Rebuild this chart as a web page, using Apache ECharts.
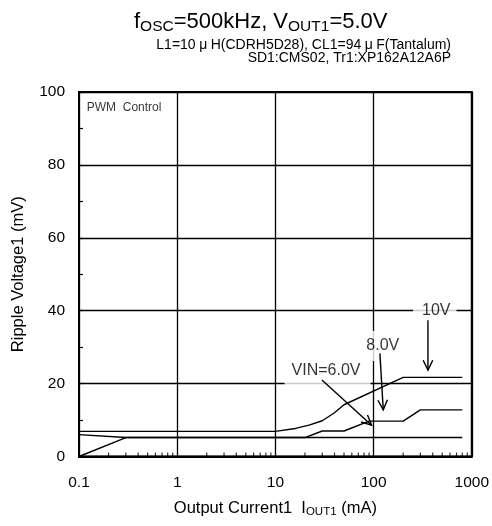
<!DOCTYPE html>
<html><head><meta charset="utf-8">
<script src="https://cdn.jsdelivr.net/npm/echarts@6/dist/echarts.min.js"></script>
<style>html,body{margin:0;padding:0;background:#fff}#c{width:492px;height:526px}</style>
</head><body><div id="c"></div>
<script>
const FONT = 'Liberation Sans, Arial, sans-serif';
// Output current (mA) vs ripple voltage (mV)
const vin10_current = [0.1, 10, 16, 22, 30, 40, 50, 200, 800];
const vin10_ripple  = [6.9, 6.9, 7.7, 8.6, 9.8, 12.0, 14.2, 21.7, 21.7];
const vin8_current  = [0.1, 0.3, 20, 30, 50, 90, 200, 300, 800];
const vin8_ripple   = [6.0, 5.2, 5.2, 7.0, 7.0, 9.7, 9.7, 12.8, 12.8];
const vin6_current  = [0.1, 0.3, 800];
const vin6_ripple   = [0, 5.2, 5.2];
const xTickLabels = ['0.1', '1', '10', '100', '1000'];
const yTickLabels = ['0', '20', '40', '60', '80', '100'];
const xDecades = [0.1, 1, 10, 100];
const minorMultipliers = [2, 3, 4, 5, 6, 7, 8, 9];
// annotations (data units)
const annotationTexts = ['10V', '8.0V', 'VIN=6.0V'];
const annotationX = [420, 124, 34];
const annotationY = [40, 30.3, 23.7];
const arrowFromX = [358, 116, 29.8];
const arrowFromY = [37.4, 28.3, 21];
const arrowToX = [358, 125.5, 95.5];
const arrowToY = [23.7, 12.8, 8.6];
const noteText = ['PWM  Control'];
const noteX = [0.12];
const noteY = [95.6];
// styles for annotation labels
const annotationPadding = [[2, 6, 2, 9], [7, 4, 7, 4], [9, 10, 9, 7]];

const zip = (a, b) => a.map((v, i) => [v, b[i]]);
const findLabel = (arr, v) => {
  for (const l of arr) { const n = parseFloat(l); if (n === v || (n !== 0 && Math.abs(v / n - 1) < 1e-6)) return l; }
  return '';
};
const minorTicks = [];
xDecades.forEach(d => minorMultipliers.forEach(m => minorTicks.push([d * m, 0])));

const lineSeries = (data) => ({
  type: 'line', data, symbol: 'none', silent: true, z: 3,
  lineStyle: { color: '#000', width: 1.4 }, animation: false
});

const chart = echarts.init(document.getElementById('c'), null, { renderer: 'canvas' });
chart.setOption({
  animation: false,
  backgroundColor: '#fff',
  textStyle: { fontFamily: FONT },
  title: [
    { text: 'f{s|OSC}=500kHz, V{s|OUT1}=5.0V', left: 129, top: 4,
      textStyle: { fontSize: 22, fontWeight: 'normal', color: '#000', fontFamily: FONT, lineHeight: 26,
        rich: { s: { fontSize: 15.5, lineHeight: 18, verticalAlign: 'bottom', color: '#000', fontFamily: FONT } } } },
    { text: 'L1=10{m|μ}H(CDRH5D28), CL1=94{m|μ}F(Tantalum)', right: 36, top: 33,
      textStyle: { fontSize: 14, fontWeight: 'normal', color: '#000', fontFamily: FONT, lineHeight: 14,
        rich: { m: { fontSize: 14, padding: [0, 3.5], color: '#000', fontFamily: FONT, lineHeight: 14 } } } },
    { text: 'SD1:CMS02, Tr1:XP162A12A6P', right: 36, top: 46,
      textStyle: { fontSize: 14, fontWeight: 'normal', color: '#000', fontFamily: FONT, lineHeight: 14 } }
  ],
  grid: { left: 79, right: 18, top: 92, bottom: 69.5, show: true, borderColor: '#000', borderWidth: 2, backgroundColor: 'transparent' },
  xAxis: {
    type: 'log', logBase: 10, min: 0.1, max: 1000,
    name: 'Output Current1  I{s|OUT1} (mA)', nameLocation: 'middle', nameGap: 42,
    nameTextStyle: { fontSize: 16.5, color: '#000', fontFamily: FONT, lineHeight: 19,
      rich: { s: { fontSize: 11.5, lineHeight: 14, verticalAlign: 'bottom', color: '#000', fontFamily: FONT } } },
    axisLine: { show: true, lineStyle: { color: '#000', width: 2 } },
    axisTick: { show: false },
    axisLabel: { margin: 18, fontSize: 15.5, color: '#000', fontFamily: FONT, formatter: v => findLabel(xTickLabels, v) },
    splitLine: { show: true, lineStyle: { color: '#000', width: 1.3 } },
    minorTick: { show: false }, minorSplitLine: { show: false }
  },
  yAxis: {
    type: 'value', min: 0, max: 100, interval: 20,
    name: 'Ripple Voltage1 (mV)', nameLocation: 'middle', nameGap: 52,
    nameTextStyle: { fontSize: 16.5, color: '#000', fontFamily: FONT },
    axisLine: { show: true, lineStyle: { color: '#000', width: 2 } },
    axisTick: { show: true, inside: true, length: 4, lineStyle: { color: '#000', width: 1.2 } },
    minorTick: { show: true, splitNumber: 2, length: 4, lineStyle: { color: '#000', width: 1.2 } },
    axisLabel: { margin: 14, fontSize: 15.5, color: '#000', fontFamily: FONT, formatter: v => findLabel(yTickLabels, v) },
    splitLine: { show: true, lineStyle: { color: '#000', width: 1.3 } }
  },
  series: [
    lineSeries(zip(vin10_current, vin10_ripple)),
    lineSeries(zip(vin8_current, vin8_ripple)),
    lineSeries(zip(vin6_current, vin6_ripple)),
    { type: 'scatter', data: minorTicks, symbol: 'rect', symbolSize: [1.2, 4], symbolOffset: [0, -2],
      itemStyle: { color: '#000' }, silent: true, z: 3 },
    { type: 'scatter', symbolSize: 0, silent: true, z: 4,
      data: annotationTexts.map((t, i) => ({ value: [annotationX[i], annotationY[i]], name: t,
        label: { padding: annotationPadding[i] } })),
      label: { show: true, position: 'inside', formatter: '{b}', color: '#000', fontSize: 16,
        fontFamily: FONT, backgroundColor: '#fff' } },
    { type: 'scatter', symbolSize: 0, silent: true, z: 4,
      data: noteText.map((t, i) => ({ value: [noteX[i], noteY[i]], name: t })),
      label: { show: true, position: 'right', distance: 0, formatter: '{b}', color: '#000', fontSize: 12, fontFamily: FONT } },
    { type: 'custom', silent: true, z: 5,
      data: arrowFromX.map((v, i) => [v, arrowFromY[i], arrowToX[i], arrowToY[i]]),
      encode: { x: [0, 2], y: [1, 3] },
      renderItem: (params, api) => {
        const p1 = api.coord([api.value(0), api.value(1)]);
        const p2 = api.coord([api.value(2), api.value(3)]);
        const ang = Math.atan2(p2[1] - p1[1], p2[0] - p1[0]);
        const L = 11, a = 0.45;
        const h1 = [p2[0] - L * Math.cos(ang - a), p2[1] - L * Math.sin(ang - a)];
        const h2 = [p2[0] - L * Math.cos(ang + a), p2[1] - L * Math.sin(ang + a)];
        return { type: 'group', children: [
          { type: 'line', shape: { x1: p1[0], y1: p1[1], x2: p2[0], y2: p2[1] }, style: { stroke: '#000', lineWidth: 1.4 } },
          { type: 'polyline', shape: { points: [h1, p2, h2] }, style: { stroke: '#000', fill: null, lineWidth: 1.4 } }
        ] };
      } }
  ]
});
</script>
</body></html>
